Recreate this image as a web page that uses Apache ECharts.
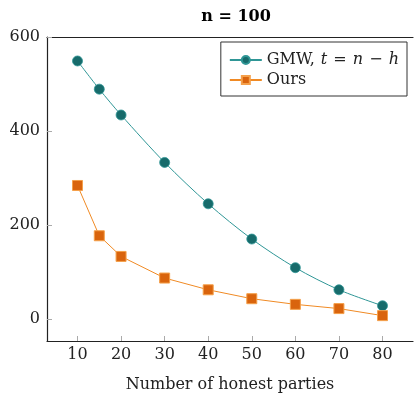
<!DOCTYPE html>
<html>
<head>
<meta charset="utf-8">
<script src="https://cdn.jsdelivr.net/npm/echarts@6/dist/echarts.min.js"></script>
<style>
  html, body { margin: 0; padding: 0; background: #fff; }
  #main { width: 414px; height: 394px; }
</style>
</head>
<body>
<div id="main"></div>
<script>
// honest parties on the x axis
const parties = [10, 15, 20, 30, 40, 50, 60, 70, 80];
const gmw = [549, 489, 434, 333, 245, 170, 109, 62, 28];
const ours = [284, 177, 133, 87, 62, 43, 31, 22, 7];
const xTicks = [10, 20, 30, 40, 50, 60, 70, 80];
const yTicks = [0, 200, 400, 600];

const FONT = '"DejaVu Serif", "Liberation Serif", serif';
const chart = echarts.init(document.getElementById('main'));

const pairs = (ys) => parties.map((x, i) => [x, ys[i]]);

const option = {
  animation: false,
  textStyle: { fontFamily: FONT },
  title: {
    text: 'n = 100',
    left: 231,
    textAlign: 'center',
    top: 4,
    textStyle: { fontFamily: FONT, fontSize: 16, fontWeight: 'bold', color: '#000' }
  },
  grid: { left: 47, top: 37, right: 1, bottom: 53, outerBoundsMode: 'none' },
  legend: {
    orient: 'vertical',
    right: 7,
    top: 42,
    padding: [10, 8, 8, 8],
    itemGap: 4,
    itemWidth: 32,
    itemHeight: 10,
    borderColor: '#333',
    borderWidth: 1,
    backgroundColor: '#fff',
    data: ['GMW', 'Ours'],
    formatter: (name) =>
      name === 'GMW'
        ? '{n|GMW, }{i|t}{n| = }{i|n}{n| − }{i|h}'
        : '{n|Ours}',
    textStyle: {
      fontFamily: FONT,
      fontSize: 16,
      color: '#222',
      rich: {
        n: { fontFamily: FONT, fontSize: 16, color: '#222' },
        i: { fontFamily: FONT, fontSize: 16, fontStyle: 'italic', color: '#222', padding: [0, 1, 0, 1] }
      }
    }
  },
  xAxis: [
    {
      type: 'value',
      min: 3,
      max: 87,
      name: 'Number of honest parties',
      nameLocation: 'middle',
      nameGap: 36,
      nameTextStyle: { fontFamily: FONT, fontSize: 16, color: '#222' },
      axisLine: { show: true, onZero: false, lineStyle: { color: '#222', width: 1.2 } },
      axisTick: {
        show: true,
        inside: true,
        length: 5,
        customValues: xTicks,
        lineStyle: { color: '#aaa' }
      },
      axisLabel: {
        customValues: xTicks,
        margin: 6,
        fontFamily: FONT,
        fontSize: 16,
        color: '#222'
      },
      splitLine: { show: false }
    },
    {
      type: 'value',
      position: 'top',
      min: 3,
      max: 87,
      axisLine: { show: true, onZero: false, lineStyle: { color: '#222', width: 1.2 } },
      axisTick: { show: false },
      axisLabel: { show: false },
      splitLine: { show: false }
    }
  ],
  yAxis: {
    type: 'value',
    min: -47,
    max: 600,
    axisLine: { show: true, onZero: false, lineStyle: { color: '#222', width: 1.2 } },
    axisTick: {
      show: true,
      inside: true,
      length: 5,
      customValues: yTicks,
      lineStyle: { color: '#aaa' }
    },
    axisLabel: {
      customValues: yTicks,
      margin: 7,
      fontFamily: FONT,
      fontSize: 16,
      color: '#222'
    },
    splitLine: { show: false }
  },
  series: [
    {
      name: 'GMW',
      type: 'line',
      smooth: 0.3,
      data: pairs(gmw),
      symbol: 'circle',
      symbolSize: 10,
      lineStyle: { color: '#2f9696', width: 1 },
      itemStyle: { color: '#176b6b', borderColor: '#2f9696', borderWidth: 0.8 }
    },
    {
      name: 'Ours',
      type: 'line',
      data: pairs(ours),
      symbol: 'rect',
      symbolSize: 10,
      lineStyle: { color: '#f08a24', width: 1 },
      itemStyle: { color: '#d9640d', borderColor: '#f5a04a', borderWidth: 1 }
    }
  ]
};

chart.setOption(option);
</script>
</body>
</html>
